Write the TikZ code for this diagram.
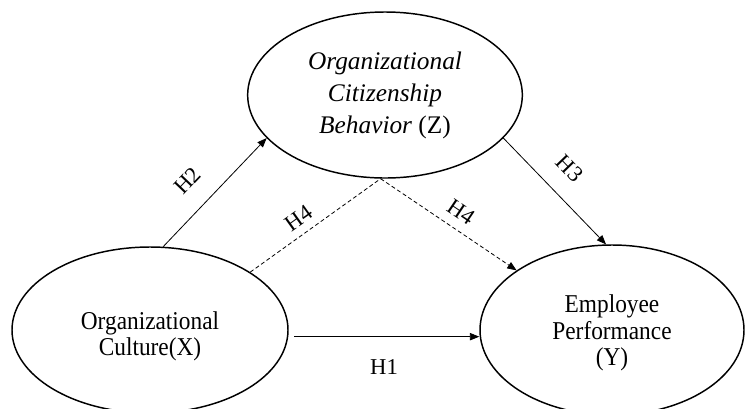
\documentclass[tikz,border=0pt]{standalone}
\usepackage{graphicx}
\usepackage{fontspec}
\setmainfont{Liberation Serif}
\usetikzlibrary{shapes.geometric,arrows.meta}
\newcommand\tallstack[2]{\scalebox{1}[1.1]{\fontsize{17.5}{#1}\selectfont\begin{tabular}{@{}c@{}}#2\end{tabular}}}
\tikzset{
  construct/.style={ellipse, draw, line width=1.1pt, inner sep=0pt, align=center},
  intext/.style={inner sep=0pt},
  arr/.style={line width=0.6pt, -{Triangle[length=7pt,width=5.5pt]}},
  darr/.style={arr, dash pattern=on 3pt off 2pt},
  dline/.style={line width=0.6pt, dash pattern=on 3pt off 2pt},
  hlabel/.style={font=\fontsize{17}{20}\selectfont, inner sep=0pt}
}
\begin{document}
\begin{tikzpicture}[x=0.75pt,y=-0.75pt]
\useasboundingbox (0,0) rectangle (745,408);
\node[construct, minimum width=206pt, minimum height=124.5pt,
      font=\fontsize{19}{24}\selectfont] (Z) at (385,95)
  {\textit{Organizational}\\ \textit{Citizenship}\\ \textit{Behavior} (Z)};
\node[construct, minimum width=207pt, minimum height=124.5pt,
      label={[intext, yshift=-5.6pt]center:\tallstack{17pt}{Organizational\\Culture(X)}}] (X) at (150,330) {};
\node[construct, minimum width=198pt, minimum height=127.5pt,
      label={[intext, yshift=-3pt]center:\tallstack{18pt}{Employee\\Performance\\(Y)}}] (Y) at (612,330) {};
% H2
\draw[arr] (X.81) -- node[hlabel, sloped, above=15pt, pos=0.43] {H2} (Z.200);
% H4 dashed left
\draw[dline] (X.30) -- node[hlabel, sloped, above=6pt, pos=0.44] {H4} (Z.267);
% H4 dashed right
\draw[darr] (Z.267) -- node[hlabel, sloped, above=7pt, pos=0.52] {H4} (Y.148);
% H3
\draw[arr] (Z.-20) -- node[hlabel, sloped, above=14pt, pos=0.46] {H3} (Y.94);
% H1
\draw[arr, shorten <=4pt] ([yshift=-5pt]X.east) -- node[hlabel, below=17pt] {H1} ([yshift=-5pt]Y.west);
\end{tikzpicture}
\end{document}
